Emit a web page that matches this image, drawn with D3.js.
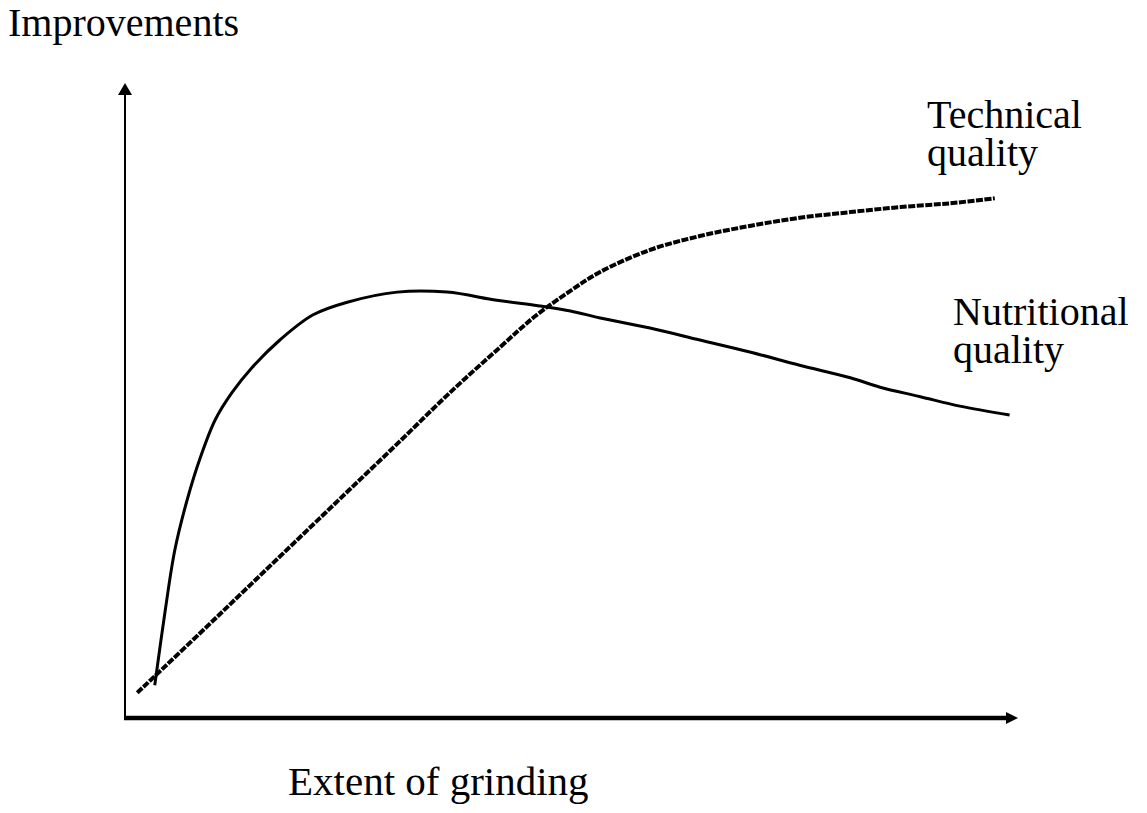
<!DOCTYPE html>
<html>
<head>
	<script src="https://d3js.org/d3.v7.min.js"></script>
	<style>
		body { margin: 0; background: #fff; }
		text { font-family: "Liberation Serif", "Times New Roman", serif; fill: #000; }
	</style>
</head>
<body>
	<div id="plot"></div>
	<script type="text/javascript">
		// vars
		var w = 1147, h = 813;

		// data (0..100 on both axes)
		const techX = [1.4, 8.6, 14.3, 20, 25.7, 31.4, 37.1, 42.9, 46.9, 50.9, 54.3, 60, 65.7, 71.4, 77.1, 82.9, 88.6, 94.3, 99.4];
		const techY = [4, 13.5, 21.1, 28.7, 36.3, 43.9, 51.6, 58.9, 63.8, 67.8, 70.8, 74.3, 76.5, 78.1, 79.4, 80.3, 81.1, 81.7, 82.5];

		const nutrX = [3.4, 4.6, 5.7, 7.1, 8.6, 10.3, 12.2, 14.5, 17.7, 21.5, 25.4, 31.1, 36.8, 42.5, 47.4, 50.9, 54.3, 60, 65.7, 71.4, 77.1, 82.9, 86.3, 90.9, 95.4, 101.1];
		const nutrY = [5.2, 17.1, 26.7, 34.6, 41.3, 47.3, 51.6, 55.6, 60, 64, 66, 67.6, 67.6, 66.3, 65.4, 64.6, 63.5, 61.9, 60, 58.1, 56, 54, 52.5, 51, 49.5, 48.1];

		const yTitle = "Improvements";
		const xTitle = "Extent of grinding";
		const techLabel = ["Technical", "quality"];
		const nutrLabel = ["Nutritional", "quality"];

		// SVG
		var svg = d3.select("#plot")
			.append("svg")
			.attr("width", w)
			.attr("height", h);

		// Scales
		var xScale = d3.scaleLinear().domain([0, 100]).range([125, 1000]);
		var yScale = d3.scaleLinear().domain([0, 100]).range([718, 88]);

		// axes with arrow heads
		svg.append("line")
			.attr("x1", xScale(0)).attr("y1", yScale(0) + 2)
			.attr("x2", xScale(0)).attr("y2", yScale(99))
			.attr("stroke", "#000").attr("stroke-width", 2);
		svg.append("path")
			.attr("d", "M" + xScale(0) + "," + (yScale(100) - 5) + " l-7,12 l14,0 Z")
			.attr("fill", "#000");

		svg.append("line")
			.attr("x1", xScale(0) - 1).attr("y1", yScale(0))
			.attr("x2", xScale(101)).attr("y2", yScale(0))
			.attr("stroke", "#000").attr("stroke-width", 4.5);
		svg.append("path")
			.attr("d", "M" + (xScale(102) + 0.5) + "," + yScale(0) + " l-12,-6 l0,12 Z")
			.attr("fill", "#000");

		// lines
		var line = d3.line()
			.x(function(d) { return xScale(d[0]); })
			.y(function(d) { return yScale(d[1]); })
			.curve(d3.curveCatmullRom.alpha(0.5));

		svg.append("path")
			.datum(d3.zip(techX, techY))
			.attr("d", line)
			.attr("fill", "none")
			.attr("stroke", "#000")
			.attr("stroke-width", 4)
			.attr("stroke-dasharray", "7 1.5");

		svg.append("path")
			.datum(d3.zip(nutrX, nutrY))
			.attr("d", line)
			.attr("fill", "none")
			.attr("stroke", "#000")
			.attr("stroke-width", 3);

		// texts
		svg.append("text").attr("x", 8).attr("y", 36)
			.style("font-size", "40px").text(yTitle);
		svg.append("text").attr("x", 288).attr("y", 795)
			.style("font-size", "41px").text(xTitle);

		svg.selectAll(".tech").data(techLabel).enter().append("text")
			.attr("class", "tech")
			.attr("x", 927)
			.attr("y", function(d, i) { return 128 + i * 38; })
			.style("font-size", "40px")
			.text(function(d) { return d; });

		svg.selectAll(".nutr").data(nutrLabel).enter().append("text")
			.attr("class", "nutr")
			.attr("x", 953)
			.attr("y", function(d, i) { return 325 + i * 38; })
			.style("font-size", "40px")
			.text(function(d) { return d; });
	</script>
</body>
</html>
